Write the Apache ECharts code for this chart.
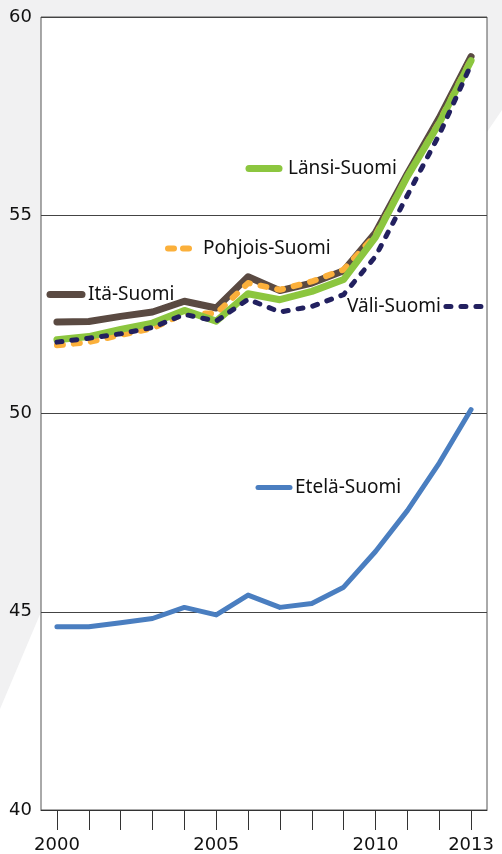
<!DOCTYPE html>
<html>
<head>
<meta charset="utf-8">
<script src="https://cdn.jsdelivr.net/npm/echarts@6/dist/echarts.min.js"></script>
<style>
  html, body { margin: 0; padding: 0; background: #fff; }
  #chart-panel { width: 502px; height: 854px; }
</style>
</head>
<body>
<div id="chart-panel"></div>
<script>
// vuosi-akseli
const years = ["2000", "2001", "2002", "2003", "2004", "2005", "2006", "2007", "2008", "2009", "2010", "2011", "2012", "2013"]
const yearLabels = ["2000", "2005", "2010", "2013"]
const itaSuomi = [52.31, 52.32, 52.45, 52.56, 52.83, 52.66, 53.45, 53.1, 53.29, 53.6, 54.56, 56.05, 57.45, 59.0]
const pohjoisSuomi = [51.72, 51.8, 51.98, 52.15, 52.52, 52.52, 53.29, 53.12, 53.33, 53.63, 54.5, 55.98, 57.35, 58.93]
const lansiSuomi = [51.86, 51.94, 52.12, 52.28, 52.6, 52.33, 53.02, 52.87, 53.08, 53.38, 54.45, 55.98, 57.32, 58.9]
const valiSuomi = [51.8, 51.9, 52.01, 52.17, 52.5, 52.33, 52.88, 52.56, 52.7, 53.0, 53.96, 55.5, 57.03, 58.8]
const etelaSuomi = [44.62, 44.62, 44.72, 44.83, 45.11, 44.92, 45.42, 45.11, 45.21, 45.62, 46.52, 47.55, 48.75, 50.1]
const yTicks = [40, 45, 50, 55, 60]

const chart = echarts.init(document.getElementById("chart-panel"), null, { renderer: "canvas" })

const makeLegend = (name, left, centerY, itemWidth, lineStyle, align, textPad) => {
  return {
    data: [name],
    left: left,
    top: centerY - 9,
    padding: 0,
    itemWidth: itemWidth,
    itemHeight: 14,
    itemGap: 5,
    align: align || "left",
    selectedMode: false,
    textStyle: {
      color: "#111",
      fontSize: 19,
      fontFamily: "Noto Sans",
      padding: textPad || 0
    },
    // piilotetaan symboli, jätetään viiva
    itemStyle: { opacity: 0 },
    lineStyle: lineStyle
  }
}

const line = (name, data, color, width, type, z) => {
  return {
    name: name,
    type: "line",
    data: data,
    symbol: "none",
    showSymbol: false,
    z: z,
    lineStyle: {
      color: color,
      width: width,
      type: type || "solid",
      cap: "round",
      join: "round"
    },
    itemStyle: { color: color }
  }
}

const options = {
  animation: false,
  backgroundColor: "#fff",
  graphic: [
    {
      type: "polygon",
      z: -10,
      silent: true,
      shape: {
        points: [[0, 0], [502, 0], [502, 110], [487, 132], [487, 17], [41, 17], [41, 612], [0, 709]]
      },
      style: { fill: "#f1f1f2" }
    }
  ],
  legend: [
    makeLegend("Itä-Suomi", 46.5, 294, 32, { width: 7, cap: "round", type: "solid", opacity: 1 }, "left", [0, 0, 0, 1]),
    makeLegend("Pohjois-Suomi", 165, 248, 25, { width: 6, cap: "round", type: [6, 9], opacity: 1 }, "left", [0, 0, 0, 5]),
    makeLegend("Länsi-Suomi", 245.5, 168, 30, { width: 7, cap: "round", type: "solid", opacity: 1 }, "left", [0, 0, 0, 4]),
    makeLegend("Väli-Suomi", 347, 306, 40, { width: 5, cap: "round", type: [5, 10], opacity: 1 }, "right"),
    makeLegend("Etelä-Suomi", 255.5, 487, 32, { width: 5, cap: "round", type: "solid", opacity: 1 })
  ],
  grid: {
    left: 41,
    right: 15,
    top: 17,
    bottom: 43,
    show: true,
    backgroundColor: "#fff",
    borderColor: "#555",
    borderWidth: 1
  },
  xAxis: {
    type: "category",
    data: years,
    boundaryGap: true,
    axisLine: { show: true, lineStyle: { color: "#333", width: 1 } },
    axisTick: {
      show: true,
      alignWithLabel: true,
      interval: 0,
      length: 20,
      lineStyle: { color: "#333", width: 1 }
    },
    axisLabel: {
      interval: 0,
      margin: 26,
      color: "#111",
      fontSize: 18,
      fontFamily: "DejaVu Sans",
      formatter: (v) => (yearLabels.includes(v) ? v : "")
    },
    splitLine: { show: false }
  },
  yAxis: {
    type: "value",
    min: yTicks[0],
    max: yTicks[yTicks.length - 1],
    interval: 5,
    axisLine: { show: false },
    axisTick: { show: false },
    axisLabel: {
      margin: 9,
      color: "#111",
      fontSize: 18,
      fontFamily: "DejaVu Sans"
    },
    splitLine: { show: true, lineStyle: { color: "#444", width: 1 } }
  },
  series: [
    line("Itä-Suomi", itaSuomi, "#5a4a42", 7, "solid", 2),
    line("Pohjois-Suomi", pohjoisSuomi, "#fbb03b", 6, [6, 11], 3),
    line("Länsi-Suomi", lansiSuomi, "#8cc63f", 7, "solid", 4),
    line("Väli-Suomi", valiSuomi, "#22205f", 5, [5, 10], 5),
    line("Etelä-Suomi", etelaSuomi, "#4a7ec0", 5, "solid", 6)
  ]
}
chart.setOption(options)
</script>
</body>
</html>
